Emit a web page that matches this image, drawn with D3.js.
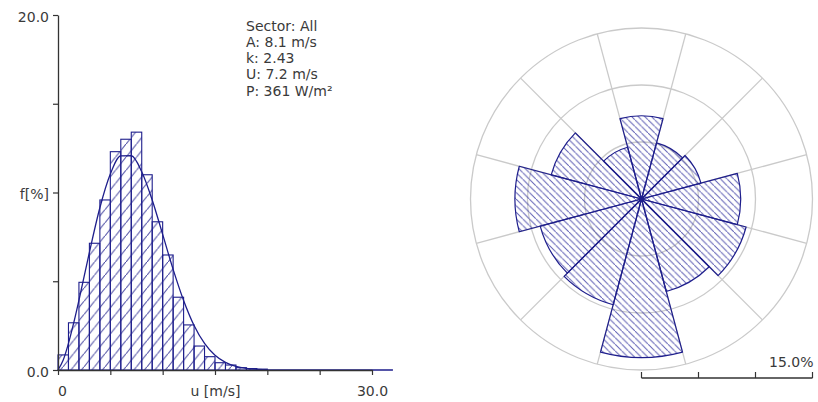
<!DOCTYPE html>
<html>
<head>
<meta charset="utf-8">
<script src="https://cdn.jsdelivr.net/npm/d3@7"></script>
<style>
  html, body { margin: 0; padding: 0; background: #fff; }
  svg { display: block; font-family: "DejaVu Sans", Verdana, sans-serif; }
</style>
</head>
<body>
<svg id="chart" width="818" height="402"></svg>
<script>
// Wind speed frequency distribution (1 m/s bins, % of time)
const speedBins = [0, 1, 2, 3, 4, 5, 6, 7, 8, 9, 10, 11, 12, 13, 14, 15, 16, 17, 18, 19];
const binFreq = [0.85, 2.66, 4.94, 7.14, 9.58, 12.3, 13.0, 13.4, 11.0, 8.35, 6.48, 4.1, 2.54, 1.35, 0.75, 0.41, 0.28, 0.13, 0.08, 0.05];

// Fitted Weibull curve (A = 8.1 m/s, k = 2.43), % per m/s
const curveSpeed = [0, 0.5, 1, 1.5, 2, 3, 4, 5, 6, 7, 8, 9, 10, 11, 12, 13, 14, 15, 16, 17, 18, 19, 20, 22, 25, 32];
const curveFreq = [0, 0.56, 1.50, 2.65, 3.93, 6.63, 9.14, 11.04, 12.06, 12.07, 11.17, 9.58, 7.64, 5.67, 3.92, 2.51, 1.50, 0.83, 0.43, 0.20, 0.09, 0.04, 0.01, 0, 0, 0];

// Summary statistics
const statLines = ["Sector: All", "A: 8.1 m/s", "k: 2.43", "U: 7.2 m/s", "P: 361 W/m\u00B2"];

// Axis ticks
const yTicks = [0, 5, 10, 15, 20];
const yTickLabels = ["0.0", "", "f[%]", "", "20.0"];
const xTicks = [0, 5, 10, 15, 20, 25, 30];
const xTickLabels = ["0", "", "", "u [m/s]", "", "", "30.0"];

// Wind rose: 12 sectors of 30 degrees, frequency in %
const sectorDir = [0, 30, 60, 90, 120, 150, 180, 210, 240, 270, 300, 330];
const sectorFreq = [7.3, 5.1, 5.4, 8.7, 9.5, 8.4, 13.9, 9.6, 9.2, 11.1, 8.2, 4.7];
const roseRings = [5, 10, 15];
const scaleTicks = [0, 5, 10, 15];
const scaleLabel = "15.0%";

const navy = "#1e1e8c";
const axisCol = "#333";
const textCol = "#3a3a3a";
const gridCol = "#cacaca";

const svg = d3.select("#chart");
const defs = svg.append("defs");

// "/" hatching for the histogram bars
const hw = 10.5, hh = 13.1;
const hp = defs.append("pattern")
  .attr("id", "hatchHist").attr("patternUnits", "userSpaceOnUse")
  .attr("width", hw).attr("height", hh);
hp.append("path")
  .attr("d", `M${-hw},${2 * hh} L${2 * hw},${-hh}`)
  .attr("stroke", navy).attr("stroke-width", 1).attr("stroke-opacity", 0.85);

// "\" hatching for the rose sectors
const rw = 6.6;
const rp = defs.append("pattern")
  .attr("id", "hatchRose").attr("patternUnits", "userSpaceOnUse")
  .attr("width", rw).attr("height", rw);
rp.append("path")
  .attr("d", `M${-rw},${-rw} L${2 * rw},${2 * rw}`)
  .attr("stroke", "#3535a0").attr("stroke-width", 1).attr("stroke-opacity", 0.8);

// ---------- Histogram ----------
const x = d3.scaleLinear().domain([0, 30]).range([58, 372]);
const y = d3.scaleLinear().domain([0, 20]).range([370, 15]);

const hist = svg.append("g");

hist.selectAll("rect.bar")
  .data(speedBins)
  .join("rect")
  .attr("class", "bar")
  .attr("x", d => x(d))
  .attr("width", d => x(d + 1) - x(d))
  .attr("y", (d, i) => y(binFreq[i]))
  .attr("height", (d, i) => y(0) - y(binFreq[i]))
  .attr("fill", "url(#hatchHist)")
  .attr("stroke", navy)
  .attr("stroke-width", 1.1);

const line = d3.line()
  .x((d, i) => x(curveSpeed[i]))
  .y(d => y(d))
  .curve(d3.curveMonotoneX);

hist.append("path")
  .datum(curveFreq)
  .attr("d", line)
  .attr("fill", "none")
  .attr("stroke", navy)
  .attr("stroke-width", 1.3);

const yAxis = d3.axisLeft(y)
  .tickValues(yTicks)
  .tickFormat((d, i) => yTickLabels[i])
  .tickSize(5).tickSizeOuter(0).tickPadding(4);

const yg = svg.append("g").attr("transform", `translate(${x(0)},0)`).call(yAxis);

const xAxis = d3.axisBottom(x)
  .tickValues(xTicks)
  .tickFormat((d, i) => xTickLabels[i])
  .tickSize(5).tickSizeOuter(0).tickPadding(11);

const xg = svg.append("g").attr("transform", `translate(0,${y(0)})`).call(xAxis);

[yg, xg].forEach(g => {
  g.select(".domain").attr("stroke", axisCol).attr("stroke-width", 1.3);
  g.selectAll(".tick line").attr("stroke", axisCol).attr("stroke-width", 1.2);
  g.selectAll(".tick text")
    .attr("fill", textCol)
    .style("font-family", "'DejaVu Sans', Verdana, sans-serif")
    .style("font-size", "14px");
});
yg.selectAll(".tick text").attr("dy", "0.45em");
xg.selectAll(".tick text").filter((d, i) => i === 0).attr("dx", 4);

// Statistics block
svg.append("g")
  .selectAll("text")
  .data(statLines)
  .join("text")
  .attr("x", 246)
  .attr("y", (d, i) => 30.5 + i * 16.3)
  .attr("fill", textCol)
  .style("font-size", "14px")
  .text(d => d);

// ---------- Wind rose ----------
const cx = 641.5, cy = 199;
const r = d3.scaleLinear().domain([0, 15]).range([0, 171]);
const rose = svg.append("g").attr("transform", `translate(${cx},${cy})`);

// Grid: rings and sector spokes
rose.selectAll("circle.ring")
  .data(roseRings)
  .join("circle")
  .attr("class", "ring")
  .attr("r", d => r(d))
  .attr("fill", "none")
  .attr("stroke", gridCol)
  .attr("stroke-width", 1.3);

const half = 15 * Math.PI / 180;
rose.selectAll("line.spoke")
  .data(sectorDir)
  .join("line")
  .attr("class", "spoke")
  .attr("x1", d => r(roseRings[0]) * Math.sin(d * Math.PI / 180 + half))
  .attr("y1", d => -r(roseRings[0]) * Math.cos(d * Math.PI / 180 + half))
  .attr("x2", d => r(15) * Math.sin(d * Math.PI / 180 + half))
  .attr("y2", d => -r(15) * Math.cos(d * Math.PI / 180 + half))
  .attr("stroke", gridCol)
  .attr("stroke-width", 1.3);

// Sector wedges
const arc = d3.arc()
  .innerRadius(0)
  .outerRadius((d, i) => r(sectorFreq[i]))
  .startAngle(d => d * Math.PI / 180 - half)
  .endAngle(d => d * Math.PI / 180 + half);

rose.selectAll("path.sector")
  .data(sectorDir)
  .join("path")
  .attr("class", "sector")
  .attr("d", (d, i) => arc(d, i))
  .attr("fill", "url(#hatchRose)")
  .attr("stroke", navy)
  .attr("stroke-width", 1.2)
  .attr("stroke-linejoin", "round");

rose.append("circle").attr("r", 2.5).attr("fill", navy);

// Scale bar
const sb = svg.append("g").attr("transform", `translate(${cx},378)`);
sb.append("line")
  .attr("x1", r(0)).attr("x2", r(15))
  .attr("stroke", axisCol).attr("stroke-width", 1.3);
sb.selectAll("line.stick")
  .data(scaleTicks)
  .join("line")
  .attr("class", "stick")
  .attr("x1", d => r(d)).attr("x2", d => r(d))
  .attr("y1", 0).attr("y2", -6)
  .attr("stroke", axisCol).attr("stroke-width", 1.2);
sb.append("text")
  .attr("x", r(15) + 1)
  .attr("y", -11)
  .attr("text-anchor", "end")
  .attr("fill", textCol)
  .style("font-size", "14px")
  .text(scaleLabel);
</script>
</body>
</html>
